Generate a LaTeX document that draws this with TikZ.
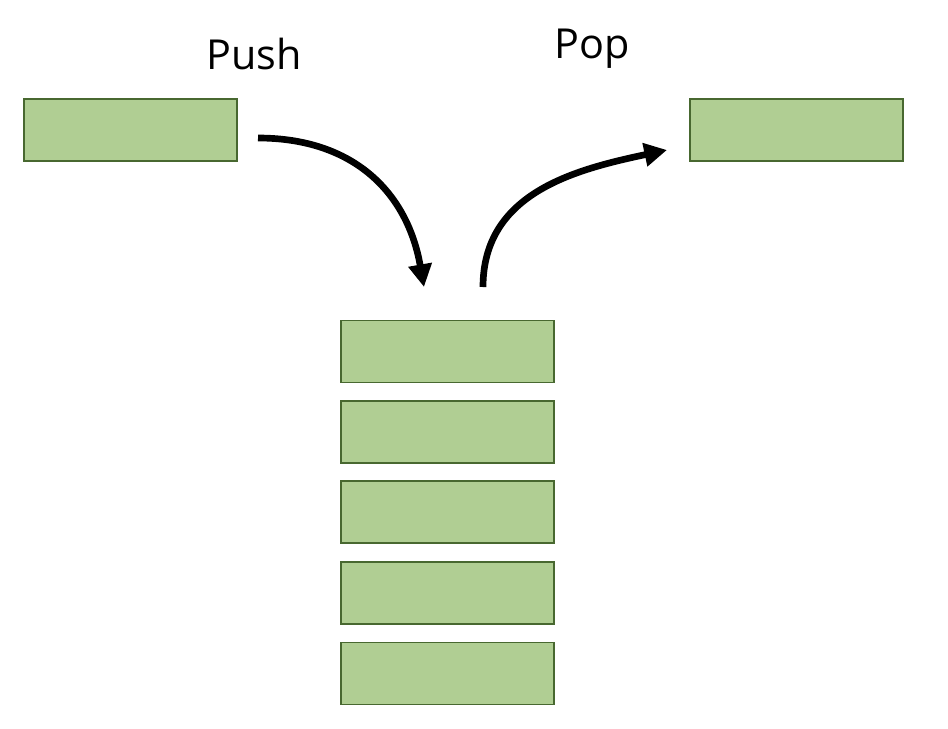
\documentclass[tikz,border=0pt]{standalone}
\usepackage{fontspec}
\setmainfont{Open Sans}
\usepackage{xcolor}
\usetikzlibrary{arrows.meta,positioning}

\definecolor{boxfill}{RGB}{176,206,147}
\definecolor{boxline}{RGB}{72,104,48}

\tikzset{
	item/.style={draw=boxline,fill=boxfill,line width=1.4pt,minimum width=159.75pt,minimum height=46.5pt,inner sep=0pt},
	flow/.style={line width=5pt,-{Triangle[length=17pt,width=17pt]}},
	label/.style={font=\fontsize{31}{36}\selectfont,anchor=base,inner sep=0pt}
}

\begin{document}
\begin{tikzpicture}[x=0.75pt,y=-0.75pt]
	\useasboundingbox (0,0) rectangle (948,728);
	\node[item] (inbox) at (130.5,130) {};
	\node[item] (outbox) at (796.5,130) {};
	\node[item] (s1) at (447.5,351.5) {};
	\node[item] (s2) at (447.5,432) {};
	\node[item] (s3) at (447.5,512) {};
	\node[item] (s4) at (447.5,593) {};
	\node[item] (s5) at (447.5,673.5) {};
	\node[label] (push) at (254,69) {Push};
	\node[label] (pop) at (592,58) {Pop};
	% arrows
	\coordinate (pushstart) at (258,138);
	\coordinate (pushend) at (424,287);
	\coordinate (popstart) at (483,287);
	\coordinate (popend) at (667,150);
	\draw[flow] (pushstart) to[out=0,in=100,looseness=1.1] (pushend);
	\draw[flow] (popstart) to[out=90,in=192,looseness=1.05] (popend);
\end{tikzpicture}
\end{document}
